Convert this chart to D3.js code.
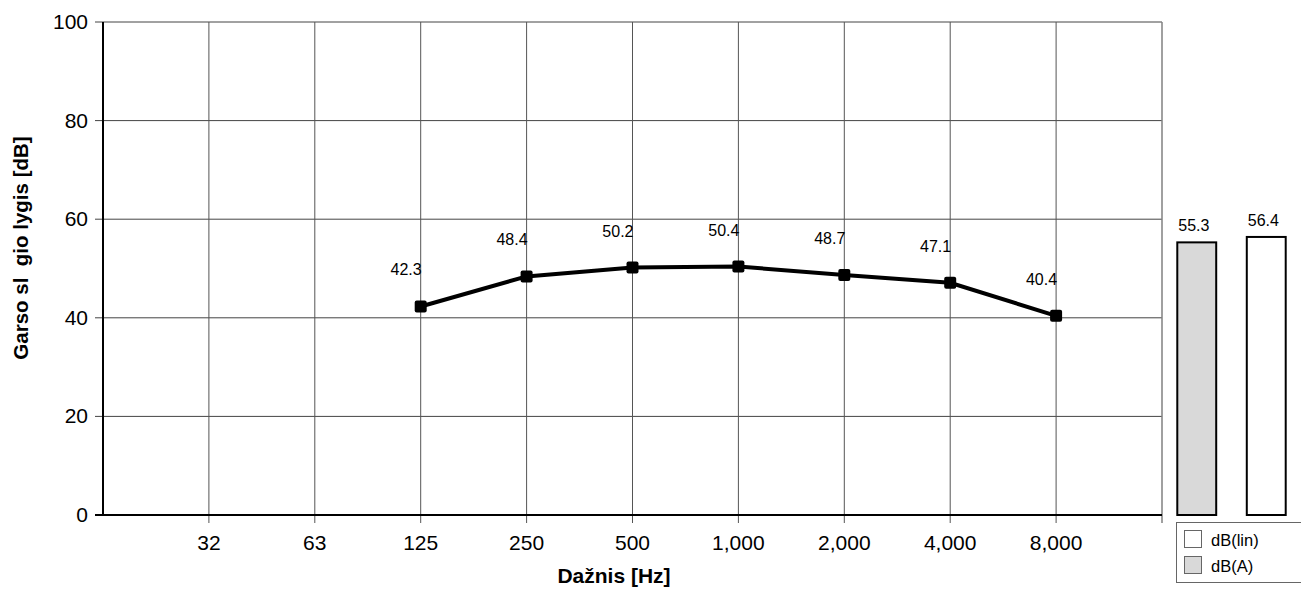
<!DOCTYPE html>
<html>
<head>
<meta charset="utf-8">
<script src="https://cdn.jsdelivr.net/npm/d3@7"></script>
<style>
body { margin: 0; background: #fff; }
text { font-family: "Liberation Sans", Arial, sans-serif; fill: #000; }
</style>
</head>
<body>
<script>
const freqLabels = ["32", "63", "125", "250", "500", "1,000", "2,000", "4,000", "8,000"];
const levels = [null, null, 42.3, 48.4, 50.2, 50.4, 48.7, 47.1, 40.4];
const yTicks = [0, 20, 40, 60, 80, 100];
const totalNames = ["dB(A)", "dB(lin)"];
const totalValues = [55.3, 56.4];
const totalColors = ["#d9d9d9", "#ffffff"];

const w = 1301, h = 590;
const padL = 103, padR = 1162, padT = 22, padB = 515;

const svg = d3.select("body").append("svg").attr("width", w).attr("height", h);

const xScale = d3.scaleLinear().domain([0, freqLabels.length + 1]).range([padL, padR]);
const yScale = d3.scaleLinear().domain([0, 100]).range([padB, padT]);

// horizontal grid
svg.selectAll(".hgrid").data(yTicks).enter().append("line")
    .attr("x1", padL - 8).attr("x2", padR)
    .attr("y1", d => yScale(d)).attr("y2", d => yScale(d))
    .attr("stroke", "#444").attr("stroke-width", 1);

// vertical grid
svg.selectAll(".vgrid").data(freqLabels).enter().append("line")
    .attr("x1", (d, i) => xScale(i + 1)).attr("x2", (d, i) => xScale(i + 1))
    .attr("y1", padT).attr("y2", padB + 8)
    .attr("stroke", "#555").attr("stroke-width", 1);

// right border
svg.append("line").attr("x1", padR).attr("x2", padR).attr("y1", padT).attr("y2", padB + 8)
    .attr("stroke", "#808080").attr("stroke-width", 1.5);

// axes
svg.append("line").attr("x1", padL).attr("x2", padL).attr("y1", padT).attr("y2", padB)
    .attr("stroke", "#000").attr("stroke-width", 2);
svg.append("line").attr("x1", padL - 8).attr("x2", padR).attr("y1", padB).attr("y2", padB)
    .attr("stroke", "#000").attr("stroke-width", 2);

// y tick labels
svg.selectAll(".ylab").data(yTicks).enter().append("text")
    .attr("x", padL - 15).attr("y", d => yScale(d) + 7)
    .attr("text-anchor", "end").attr("font-size", 21).text(d => d);

// x tick labels
svg.selectAll(".xlab").data(freqLabels).enter().append("text")
    .attr("x", (d, i) => xScale(i + 1)).attr("y", 550)
    .attr("text-anchor", "middle").attr("font-size", 21).text(d => d);

svg.append("text").attr("x", 614).attr("y", 583).attr("text-anchor", "middle")
    .attr("font-size", 21).attr("font-weight", "bold").text("Dažnis [Hz]");

svg.append("text").attr("transform", "translate(28,248) rotate(-90)")
    .attr("text-anchor", "middle").attr("font-size", 20.5).attr("font-weight", "bold")
    .style("white-space", "pre")
    .text("Garso sl  gio lygis [dB]");

// line
const pts = levels.map((v, i) => ({ i: i + 1, v })).filter(d => d.v !== null);
svg.append("path").datum(pts)
    .attr("d", d3.line().x(d => xScale(d.i)).y(d => yScale(d.v)))
    .attr("fill", "none").attr("stroke", "#000").attr("stroke-width", 4);

svg.selectAll(".mark").data(pts).enter().append("rect")
    .attr("x", d => xScale(d.i) - 6).attr("y", d => yScale(d.v) - 6)
    .attr("width", 12).attr("height", 12).attr("rx", 2).attr("fill", "#000");

svg.selectAll(".plab").data(pts).enter().append("text")
    .attr("x", d => xScale(d.i) + 1).attr("y", d => yScale(d.v) - 31)
    .attr("text-anchor", "end").attr("font-size", 16).text(d => d.v.toFixed(1));

// total bars
const barX = d3.scaleBand().domain(totalNames).range([padR, w]).paddingInner(0.44).paddingOuter(0.22);
svg.selectAll(".bar").data(totalValues).enter().append("rect")
    .attr("x", (d, i) => barX(totalNames[i])).attr("y", d => yScale(d))
    .attr("width", barX.bandwidth()).attr("height", d => padB - yScale(d))
    .attr("fill", (d, i) => totalColors[i]).attr("stroke", "#000").attr("stroke-width", 2);

svg.selectAll(".blab").data(totalValues).enter().append("text")
    .attr("x", (d, i) => barX(totalNames[i]) + 1).attr("y", d => yScale(d) - 11)
    .attr("font-size", 16).text(d => d.toFixed(1));

// legend
const lg = svg.append("g").attr("transform", "translate(1176,522)");
lg.append("rect").attr("x", 0.5).attr("y", 0.5).attr("width", 140).attr("height", 60)
    .attr("fill", "#fff").attr("stroke", "#666");
const legendOrder = [1, 0];
legendOrder.forEach((k, j) => {
    lg.append("rect").attr("x", 8.5).attr("y", 8.5 + j * 26).attr("width", 17).attr("height", 17)
        .attr("fill", totalColors[k]).attr("stroke", "#666");
    lg.append("text").attr("x", 35).attr("y", 24 + j * 26).attr("font-size", 16.5).text(totalNames[k]);
});
</script>
</body>
</html>
